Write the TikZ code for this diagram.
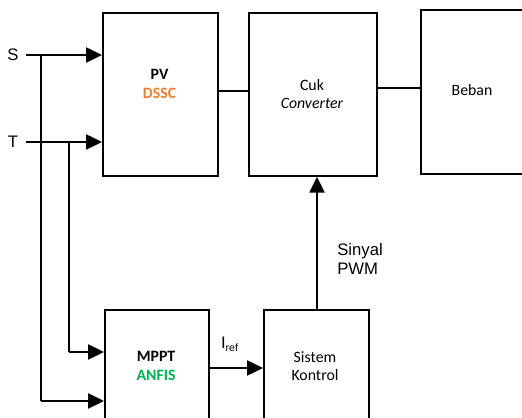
\documentclass[tikz,border=0pt]{standalone}
\usepackage{fontspec}
\setmainfont{Carlito}
\newfontfamily\arialf{Liberation Sans}
\usetikzlibrary{arrows.meta, calc}
\definecolor{dssc}{HTML}{ED7D31}
\definecolor{anfis}{HTML}{00B050}
\tikzset{%
    blk/.style={rectangle, draw, line width=1pt, anchor=north west, inner sep=0pt},
    txt/.style={align=center, font=\fontsize{9}{10.5}\selectfont, inner sep=0pt},
    lbl/.style={font=\arialf\fontsize{9.5}{10.5}\selectfont, inner sep=0pt},
    sec/.style={line width=1pt},
    pria/.style={line width=1.2pt, -{Triangle[length=9pt, width=8.5pt]}},
}
\begin{document}
\begin{tikzpicture}[x=0.02cm, y=-0.02cm]
    \useasboundingbox (0,0) rectangle (522,418);
    \clip (0,0) rectangle (522,418);
    % blocks
    \node [blk, minimum width=2.3cm, minimum height=3.26cm] (pv) at (102,12) {};
    \node [blk, minimum width=2.56cm, minimum height=3.26cm] (cuk) at (248,12) {};
    \node [blk, minimum width=2.4cm, minimum height=3.28cm] (beban) at (420,9) {};
    \node [blk, minimum width=2.08cm, minimum height=2.8cm] (mppt) at (104,309) {};
    \node [blk, minimum width=2.1cm, minimum height=2.8cm] (sis) at (263,309) {};
    % block texts
    \node [txt] (pvt) at (159.5,84) {\textbf{PV}\\\textcolor{dssc}{\textbf{DSSC}}};
    \node [txt] (cukt) at (312,94) {Cuk\\\textit{Converter}};
    \node [txt] (bebant) at (472,90) {Beban};
    \node [txt] (mpptt) at (156,366) {\textbf{MPPT}\\\textcolor{anfis}{\textbf{ANFIS}}};
    \node [txt] (sist) at (315,366) {Sistem\\Kontrol};
    % inputs
    \node [lbl, outer sep=4.5pt] (s) at (13,55) {S};
    \node [lbl, outer sep=4.5pt] (t) at (13,142) {T};
    \coordinate (js) at (41,55);
    \coordinate (jt) at (69,142);
    \draw [pria](s.east) -- (s.east -| pv.west);
    \draw [pria](t.east) -- (t.east -| pv.west);
    \draw [sec](js) -- (js |- 0,401);
    \draw [pria](js |- 0,401) -- (mppt.west |- 0,401);
    \draw [sec](jt) -- (jt |- 0,352);
    \draw [pria](jt |- 0,352) -- (mppt.west |- 0,352);
    % power path
    \draw [sec](pv.east |- 0,91) -- (cuk.west |- 0,91);
    \draw [sec](cuk.east |- 0,88) -- (beban.west |- 0,88);
    % control path
    \draw [pria](mppt.east |- 0,368) -- (sis.west |- 0,368)
        node[pos=0.38, above=9pt, lbl]{I\textsubscript{\fontsize{6}{6}\selectfont ref}};
    \draw [pria](sis.north -| 317,0) -- (cuk.south -| 317,0);
    \node [lbl, align=left, anchor=west] (pwm) at (337,259) {Sinyal\\PWM};
\end{tikzpicture}
\end{document}
